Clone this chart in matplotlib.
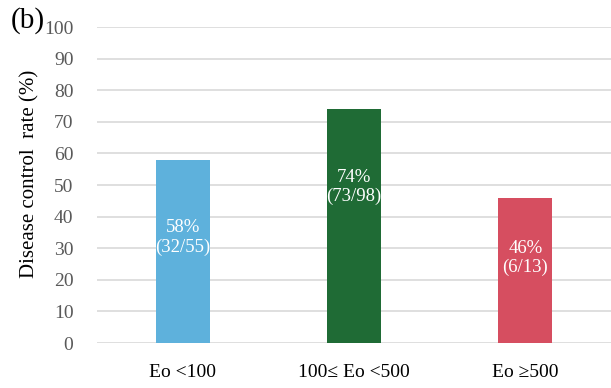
import matplotlib
matplotlib.use("Agg")
import matplotlib.pyplot as plt
import numpy as np

# disease control rate by eosinophil group
groups = ["Eo <100", "100\u2264 Eo <500", "Eo \u2265500"]
rates = [58, 74, 46]
counts = ["(32/55)", "(73/98)", "(6/13)"]
label_y = [33.4, 49.4, 26.9]
colors = ["#5EB1DC", "#1F6B35", "#D64E60"]

plt.rcParams["font.family"] = ["Liberation Serif", "DejaVu Serif"]

fig = plt.figure(figsize=(6.11, 3.88), dpi=100)
ax = fig.add_axes([97 / 611, 45 / 388, 514 / 611, 316 / 388])

x = np.arange(len(groups))
ax.bar(x, rates, width=0.315, color=colors, zorder=3)

for i in range(len(groups)):
    ax.text(x[i], label_y[i], "%d%%\n%s" % (rates[i], counts[i]), color="white",
            ha="center", va="center", fontsize=13.5, linespacing=1.15, zorder=4)

ax.set_xlim(-0.5, 2.5)
ax.set_ylim(0, 100)
ax.set_yticks(np.arange(0, 101, 10))
ax.yaxis.grid(True, color="#d9d9d9", linewidth=1.2, zorder=0)
ax.set_xticks(x)
ax.set_xticklabels(groups, fontsize=14)
ax.tick_params(axis="y", length=0, labelsize=14, labelcolor="#595959", pad=17)
ax.tick_params(axis="x", length=0, pad=15)
for s in ax.spines.values():
    s.set_visible(False)

fig.text(30 / 611, 1 - 174 / 388, "Disease control  rate (%)", fontsize=15,
         rotation=90, ha="center", va="center")
fig.text(11 / 611, 1 - 21 / 388, "(b)", fontsize=21, va="center", ha="left")

fig.savefig("out.png", dpi=100)
